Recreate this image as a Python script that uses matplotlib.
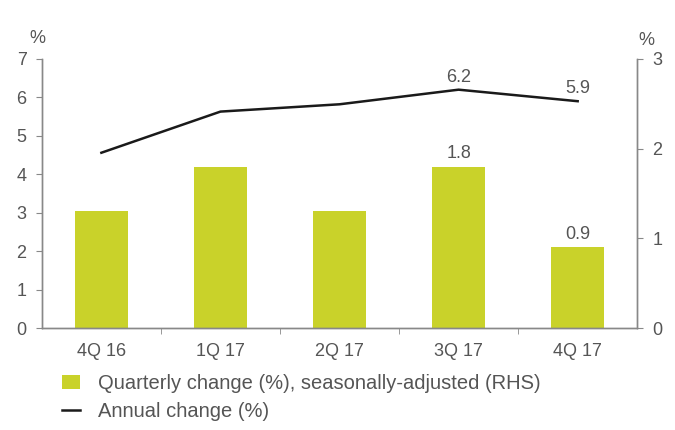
import numpy as np
import matplotlib.pyplot as plt
from matplotlib.patches import Patch
from matplotlib.lines import Line2D

plt.rcParams['font.family'] = ['Liberation Sans', 'DejaVu Sans']

quarters = ['4Q 16', '1Q 17', '2Q 17', '3Q 17', '4Q 17']
quarterly_change = [1.3, 1.8, 1.3, 1.8, 0.9]     # RHS, bars
annual_change = [4.56, 5.63, 5.82, 6.2, 5.9]      # LHS, line
bar_labels = {3: '1.8', 4: '0.9'}
line_labels = {3: '6.2', 4: '5.9'}

BAR_COLOR = '#c9d22a'
GREY = '#555555'
SPINE = '#888888'
FS = 13

fig = plt.figure(figsize=(6.75, 4.3), dpi=100)
ax = fig.add_axes([0.062, 0.237, 0.882, 0.626])
ax_r = ax.twinx()

x = np.arange(len(quarters))

# bars on the right axis, line on the left axis drawn above them
ax_r.bar(x, quarterly_change, width=0.44, color=BAR_COLOR, zorder=1)
ax.plot(x, annual_change, color='#1a1a1a', linewidth=1.8, zorder=3)
ax.set_zorder(ax_r.get_zorder() + 1)
ax.patch.set_visible(False)

for i, txt in bar_labels.items():
    ax_r.annotate(txt, (x[i], quarterly_change[i]), xytext=(0, 3),
                  textcoords='offset points', ha='center', va='bottom',
                  fontsize=FS, color=GREY)
for i, txt in line_labels.items():
    ax.annotate(txt, (x[i], annual_change[i]), xytext=(0, 3),
                textcoords='offset points', ha='center', va='bottom',
                fontsize=FS, color=GREY)

ax.set_xlim(-0.5, len(quarters) - 0.5)
ax.set_ylim(0, 7)
ax_r.set_ylim(0, 3)
ax.set_yticks(range(0, 8))
ax_r.set_yticks(range(0, 4))

ax.set_xticks(x)
ax.set_xticklabels(quarters)
ax.set_xticks(np.arange(0.5, len(quarters) - 0.5, 1), minor=True)
ax.tick_params(axis='x', which='major', length=0, pad=11,
               labelsize=FS, labelcolor=GREY)
ax.tick_params(axis='x', which='minor', length=4, color=SPINE)
ax.tick_params(axis='y', length=4, color=SPINE, labelsize=FS,
               labelcolor=GREY, pad=7)
ax_r.tick_params(axis='y', length=4, color=SPINE, labelsize=FS,
                 labelcolor=GREY, pad=7)

for a in (ax, ax_r):
    a.spines['top'].set_visible(False)
    for s in ('left', 'right', 'bottom'):
        a.spines[s].set_color(SPINE)
        a.spines[s].set_linewidth(1.0)

fig.text(0.055, 0.9, '%', fontsize=FS, color=GREY, ha='center')
fig.text(0.957, 0.895, '%', fontsize=FS, color=GREY, ha='center')

handles = [Patch(facecolor=BAR_COLOR, edgecolor='none'),
           Line2D([0], [0], color='#1a1a1a', linewidth=1.8)]
labels = ['Quarterly change (%), seasonally-adjusted (RHS)',
          'Annual change (%)']
fig.legend(handles, labels, loc='upper left', bbox_to_anchor=(0.08, 0.148),
           frameon=False, fontsize=14.5, labelcolor=GREY,
           handlelength=0.9, handleheight=0.7, handletextpad=0.9,
           labelspacing=0.45, borderaxespad=0)

fig.savefig('out.png', dpi=100)
